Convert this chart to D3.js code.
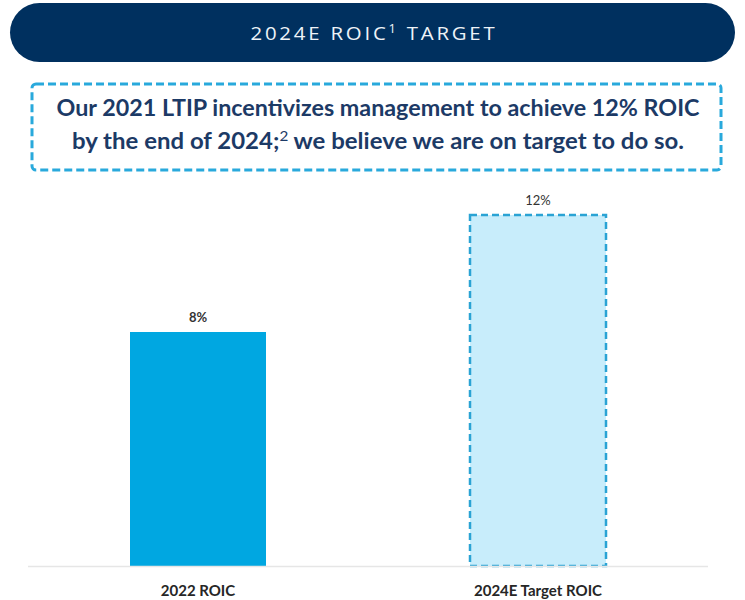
<!DOCTYPE html>
<html><head><meta charset="utf-8">
<script src="https://cdn.jsdelivr.net/npm/d3@7"></script>
<style>body{margin:0;background:#fff}svg{display:block}</style>
</head><body>
<script>
const categories = ["2022 ROIC", "2024E Target ROIC"];
const values = [8, 12];
const valueLabels = ["8%", "12%"];
const titleText = "2024E ROIC";
const titleSup = "1";
const titleRest = " TARGET";
const calloutLines = [
  ["Our 2021 LTIP incentivizes management to achieve 12% ROIC", ""],
  ["by the end of 2024;", "2", " we believe we are on target to do so."]
];

const W = 745, H = 600;
const svg = d3.select("body").append("svg").attr("width", W).attr("height", H);

// Header pill
svg.append("rect").attr("x", 10).attr("y", 3).attr("width", 725).attr("height", 59)
  .attr("rx", 29.5).attr("fill", "#00305f");
const ht = svg.append("text").attr("x", 374).attr("y", 40).attr("text-anchor", "middle")
  .attr("fill", "#eef3f8").attr("font-family", "Open Sans, sans-serif").attr("font-size", 19)
  .attr("font-weight", 400).attr("letter-spacing", 2.6).attr("textLength", 247).attr("lengthAdjust", "spacingAndGlyphs");
ht.append("tspan").text(titleText);
ht.append("tspan").attr("font-size", 12).attr("dy", -7).text(titleSup);
ht.append("tspan").attr("dy", 7).text(titleRest);

// Callout dashed box
svg.append("rect").attr("x", 32).attr("y", 84).attr("width", 689).attr("height", 86)
  .attr("rx", 4).attr("fill", "none").attr("stroke", "#29a9dc").attr("stroke-width", 3)
  .attr("stroke-dasharray", "8,4");
svg.append("text").attr("x", 378).attr("y", 116).attr("text-anchor", "middle")
  .attr("fill", "#1c3a66").attr("font-family", "Lato, sans-serif").attr("font-weight", 700)
  .attr("font-size", 22).attr("textLength", 643).attr("lengthAdjust", "spacingAndGlyphs")
  .text(calloutLines[0][0]);
const ct2 = svg.append("text").attr("x", 378).attr("y", 149).attr("text-anchor", "middle")
  .attr("fill", "#1c3a66").attr("font-family", "Lato, sans-serif").attr("font-weight", 700)
  .attr("font-size", 22).attr("textLength", 612).attr("lengthAdjust", "spacingAndGlyphs");
ct2.append("tspan").text(calloutLines[1][0]);
ct2.append("tspan").attr("font-size", 14).attr("dy", -8).attr("font-weight", 400).text(calloutLines[1][1]);
ct2.append("tspan").attr("dy", 8).text(calloutLines[1][2]);

// Chart
const x = d3.scaleBand().domain(categories).range([28, 708]).paddingInner(0.6).paddingOuter(0.3);
const y = d3.scaleLinear().domain([0, 12]).range([566, 215]);

const fills = ["#00a7e1", "#c8edfb"];
svg.selectAll("rect.bar").data(values).join("rect").attr("class", "bar")
  .attr("x", (d, i) => x(categories[i]))
  .attr("y", d => y(d))
  .attr("width", x.bandwidth())
  .attr("height", d => y(0) - y(d))
  .attr("fill", (d, i) => fills[i])
  .attr("stroke", (d, i) => i === 1 ? "#2aa3d4" : "none")
  .attr("stroke-width", 2.5)
  .attr("stroke-dasharray", (d, i) => i === 1 ? "7,4" : null);

// baseline
svg.append("line").attr("x1", 28).attr("x2", 708).attr("y1", y(0) + 0.5).attr("y2", y(0) + 0.5)
  .attr("stroke", "#e6e6e6").attr("stroke-width", 1.5);

// value labels
svg.selectAll("text.vl").data(values).join("text").attr("class", "vl")
  .attr("x", (d, i) => x(categories[i]) + x.bandwidth() / 2)
  .attr("y", d => y(d) - 10)
  .attr("text-anchor", "middle").attr("font-family", "Lato, sans-serif").attr("font-size", 13)
  .attr("font-weight", (d, i) => i === 0 ? 700 : 400).attr("fill", "#333")
  .text((d, i) => valueLabels[i]);

// category axis labels
const xAxis = d3.axisBottom(x).tickSize(0).tickPadding(0);
const ga = svg.append("g").attr("transform", `translate(0,${y(0)})`).call(xAxis);
ga.select(".domain").remove();
ga.selectAll("text").attr("dy", 0).attr("y", 30).attr("font-family", "Lato, sans-serif")
  .attr("font-size", 15).attr("font-weight", 700).attr("fill", "#262626");
</script>
</body></html>
